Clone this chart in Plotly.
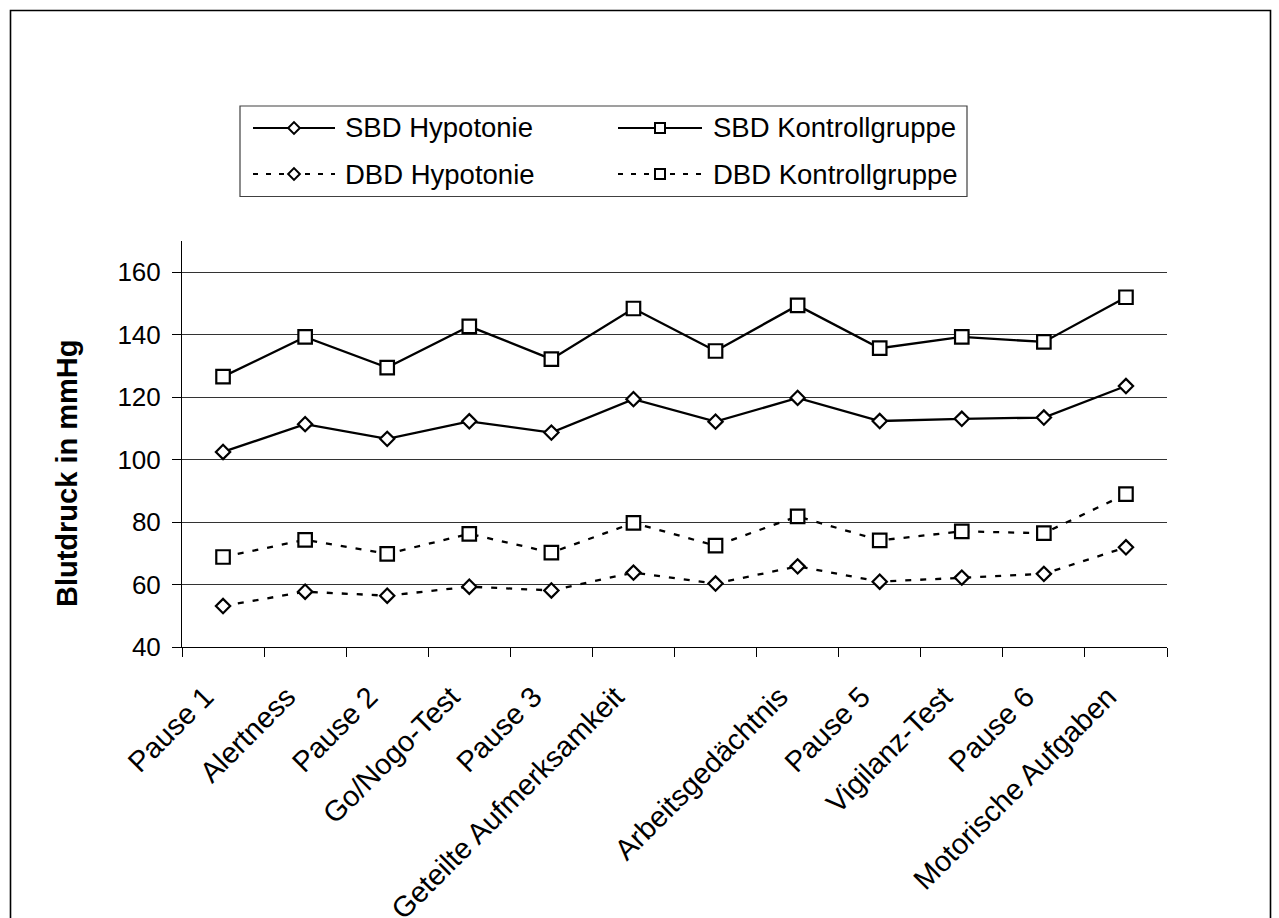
import plotly.graph_objects as go

# Blood pressure (mmHg) across test phases, hypotension vs. control group
tick_labels = ["Pause 1", "Alertness", "Pause 2", "Go/Nogo-Test", "Pause 3",
               "Geteilte Aufmerksamkeit", "", "Arbeitsgedächtnis", "Pause 5",
               "Vigilanz-Test", "Pause 6", "Motorische Aufgaben"]
positions = list(range(len(tick_labels)))

sbd_hypotonie = [102.5, 111.4, 106.7, 112.3, 108.7, 119.4, 112.2, 119.8, 112.4, 113.1, 113.5, 123.6]
sbd_kontrolle = [126.6, 139.3, 129.5, 142.7, 132.2, 148.4, 134.8, 149.4, 135.7, 139.3, 137.7, 152.0]
dbd_hypotonie = [53.2, 57.8, 56.5, 59.4, 58.2, 63.9, 60.4, 65.9, 61.0, 62.3, 63.5, 72.0]
dbd_kontrolle = [68.9, 74.4, 69.9, 76.3, 70.3, 79.8, 72.5, 81.9, 74.2, 77.1, 76.5, 89.0]

y_ticks = [40, 60, 80, 100, 120, 140, 160]

W, H = 1279, 918
FONT = "Liberation Sans, Arial, sans-serif"
DASH = "6px,9px"


def px(x):
    return x / W


def py(y):
    return 1 - y / H


series = [
    ("SBD Hypotonie", sbd_hypotonie, "diamond", 11, "solid"),
    ("SBD Kontrollgruppe", sbd_kontrolle, "square", 13.5, "solid"),
    ("DBD Hypotonie", dbd_hypotonie, "diamond", 11, DASH),
    ("DBD Kontrollgruppe", dbd_kontrolle, "square", 13.5, DASH),
]

fig = go.Figure()
for name, values, symbol, size, dash in series:
    fig.add_trace(go.Scatter(
        x=positions, y=values, name=name, mode="lines+markers",
        line=dict(color="black", width=2.3, dash=dash),
        marker=dict(symbol=symbol, size=size, color="white",
                    line=dict(color="black", width=2.2)),
        showlegend=False, cliponaxis=False,
    ))

# Legend box drawn on a pixel-space overlay axis
legend_cols = [(253, 335, 343), (618, 702, 711)]
legend_rows = [128, 174]
annotations = []
for i, (name, values, symbol, size, dash) in enumerate(series):
    col = i % 2
    row = i // 2
    x0, x1, xt = legend_cols[col]
    yl = legend_rows[row]
    fig.add_trace(go.Scatter(
        x=[x0, x1], y=[yl, yl], mode="lines", xaxis="x2", yaxis="y2",
        line=dict(color="black", width=2.2, dash=("solid" if dash == "solid" else "5px,8px")),
        showlegend=False, hoverinfo="skip", cliponaxis=False,
    ))
    fig.add_trace(go.Scatter(
        x=[(x0 + x1) / 2], y=[yl], mode="markers", xaxis="x2", yaxis="y2",
        marker=dict(symbol=symbol, size=(9 if symbol == "diamond" else 10),
                    color="white", line=dict(color="black", width=2)),
        showlegend=False, hoverinfo="skip", cliponaxis=False,
    ))
    annotations.append(dict(
        x=px(xt), y=py(yl), xref="paper", yref="paper", text=name,
        showarrow=False, xanchor="left", yanchor="middle",
        font=dict(family=FONT, size=27.5, color="black"),
    ))

annotations.append(dict(
    x=px(67), y=py(474), xref="paper", yref="paper", text="<b>Blutdruck in mmHg</b>",
    textangle=-90, showarrow=False, xanchor="center", yanchor="middle",
    font=dict(family=FONT, size=29, color="black"),
))

shapes = [
    # outer chart frame
    dict(type="rect", xref="paper", yref="paper", x0=px(10.5), x1=px(1270.5),
         y0=-0.05, y1=py(10.5), line=dict(color="black", width=1.6)),
    # legend frame
    dict(type="rect", xref="paper", yref="paper", x0=px(240), x1=px(967),
         y0=py(196.5), y1=py(106), line=dict(color="#404040", width=1.2)),
]

fig.update_layout(
    width=W, height=H,
    margin=dict(l=0, r=0, t=0, b=0, autoexpand=False),
    paper_bgcolor="white", plot_bgcolor="rgba(0,0,0,0)",
    font=dict(family=FONT, color="black"),
    showlegend=False,
    annotations=annotations,
    shapes=shapes,
    xaxis=dict(
        domain=[px(182), px(1167)], range=[-0.5, len(tick_labels) - 0.5],
        tickmode="array", tickvals=positions, ticktext=tick_labels,
        ticks="", tickangle=-45, tickfont=dict(family=FONT, size=29, color="black"),
        ticklabelshift=-18, ticklabelstandoff=20,
        showgrid=False, zeroline=False, automargin=False,
        showline=True, linecolor="black", linewidth=1,
        minor=dict(tickmode="array", tickvals=[p - 0.5 for p in positions] + [len(positions) - 0.5],
                   ticks="outside", ticklen=9, tickcolor="black", tickwidth=1, showgrid=False),
        anchor="y",
    ),
    yaxis=dict(
        domain=[py(647.3), py(241)], range=[40, 170],
        tickmode="array", tickvals=y_ticks,
        ticks="outside", ticklen=9, tickcolor="black", tickwidth=1,
        tickfont=dict(family=FONT, size=26, color="black"),
        showgrid=True, gridcolor="#333333", gridwidth=1, zeroline=False,
        showline=True, linecolor="black", linewidth=1, automargin=False,
        ticklabelstandoff=6,
        anchor="x",
    ),
    xaxis2=dict(domain=[0, 1], range=[0, W], visible=False, anchor="y2"),
    yaxis2=dict(domain=[0, 1], range=[H, 0], visible=False, anchor="x2"),
)

fig.write_html("out.html")
